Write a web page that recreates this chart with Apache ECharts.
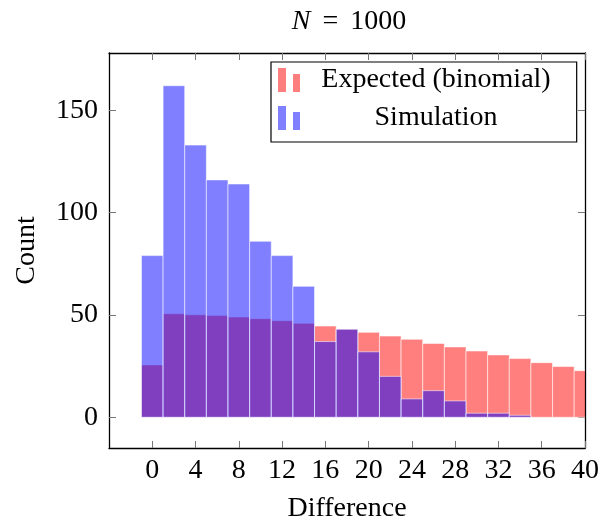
<!DOCTYPE html>
<html><head><meta charset="utf-8">
<script src="https://cdn.jsdelivr.net/npm/echarts@6/dist/echarts.min.js"></script>
<style>html,body{margin:0;padding:0;background:#fff}#c{width:600px;height:523px}</style>
</head><body><div id="c"></div>
<script>
const bins = [0,2,4,6,8,10,12,14,16,18,20,22,24,26,28,30,32,34,36,38,40];
const expected = [25.6,50.6,50.1,49.7,49.0,48.2,47.2,45.9,44.6,43.1,41.5,39.7,38.1,36.1,34.4,32.4,30.5,28.7,26.7,24.8,22.8];
const simulation = [79,162,133,116,114,86,79,64,37,43,32,20,9,13,8,2,2,1,0,0,0];
const xTicks = [0,4,8,12,16,20,24,28,32,36,40];
const yTicks = [0,50,100,150];
const seriesNames = ['Expected (binomial)', 'Simulation'];

const FONT = '"Liberation Serif", "Times New Roman", serif';
const FS = 28;
const chart = echarts.init(document.getElementById('c'), null, {renderer: 'canvas'});

function barRenderer(fill) {
  return function (params, api) {
    const x = api.value(0), y = api.value(1);
    if (!y) return null;
    const p0 = api.coord([x - 1, y]);
    const p1 = api.coord([x + 1, 0]);
    return {
      type: 'rect',
      shape: {x: p0[0], y: p0[1], width: p1[0] - p0[0], height: p1[1] - p0[1]},
      style: {fill: fill, stroke: 'rgba(255,255,255,0.55)', lineWidth: 1}
    };
  };
}

const axisLine = {show: true, onZero: false, lineStyle: {color: '#000', width: 1.3}};
const tick = (vals) => ({show: true, inside: true, length: 7, customValues: vals, lineStyle: {color: '#777', width: 1}});
const labelStyle = {color: '#000', fontFamily: FONT, fontSize: FS};
const iconPath = 'path://M0,0H8V24H0Z M15,6H22V24H15Z';

chart.setOption({
  animation: false,
  backgroundColor: '#fff',
  title: {
    text: '{i|N}{e|=}1000',
    left: 344, top: 3, textAlign: 'center',
    textStyle: {
      color: '#000', fontFamily: FONT, fontSize: FS, fontWeight: 'normal',
      rich: {
        i: {fontStyle: 'italic', fontFamily: FONT, fontSize: FS, color: '#000'},
        e: {fontFamily: FONT, fontSize: FS, color: '#000', padding: [0, 12, 0, 12]}
      }
    }
  },
  grid: {left: 109, right: 15, top: 53, bottom: 75, containLabel: false, outerBoundsMode: 'none'},
  legend: {
    orient: 'vertical', left: 271, top: 62,
    padding: [4, 26, 10, 7], itemGap: 10, itemWidth: 22, itemHeight: 24,
    borderColor: '#000', borderWidth: 1.2, backgroundColor: '#fff',
    data: [{name: seriesNames[0], icon: iconPath}, {name: seriesNames[1], icon: iconPath}],
    formatter: (n) => '{c|' + n + '}',
    textStyle: {
      color: '#000', fontFamily: FONT, fontSize: FS,
      rich: {c: {width: 262, align: 'center', fontFamily: FONT, fontSize: FS, color: '#000'}}
    }
  },
  xAxis: [
    {type: 'value', position: 'bottom', min: -4, max: 40,
     axisLine: axisLine, axisTick: tick(xTicks), splitLine: {show: false},
     axisLabel: Object.assign({customValues: xTicks, margin: 9}, labelStyle),
     name: 'Difference', nameLocation: 'middle', nameGap: 47,
     nameTextStyle: {color: '#000', fontFamily: FONT, fontSize: FS}},
    {type: 'value', position: 'top', min: -4, max: 40,
     axisLine: axisLine, axisTick: tick(xTicks), splitLine: {show: false},
     axisLabel: {show: false}}
  ],
  yAxis: [
    {type: 'value', position: 'left', min: -15, max: 178,
     axisLine: axisLine, axisTick: tick(yTicks), splitLine: {show: false},
     axisLabel: Object.assign({customValues: yTicks, margin: 11}, labelStyle),
     name: 'Count', nameLocation: 'middle', nameGap: 68, nameRotate: 90,
     nameTextStyle: {color: '#000', fontFamily: FONT, fontSize: FS}},
    {type: 'value', position: 'right', min: -15, max: 178,
     axisLine: axisLine, axisTick: tick(yTicks), splitLine: {show: false},
     axisLabel: {show: false}}
  ],
  series: [
    {name: seriesNames[0], type: 'custom', clip: true, xAxisIndex: 0, yAxisIndex: 0,
     itemStyle: {color: 'rgba(255,0,0,0.5)'},
     renderItem: barRenderer('rgba(255,0,0,0.5)'),
     data: bins.map((b, i) => [b, expected[i]])},
    {name: seriesNames[1], type: 'custom', clip: true, xAxisIndex: 0, yAxisIndex: 0,
     itemStyle: {color: 'rgba(0,0,255,0.5)'},
     renderItem: barRenderer('rgba(0,0,255,0.5)'),
     data: bins.map((b, i) => [b, simulation[i]])}
  ]
});
</script>
</body></html>
